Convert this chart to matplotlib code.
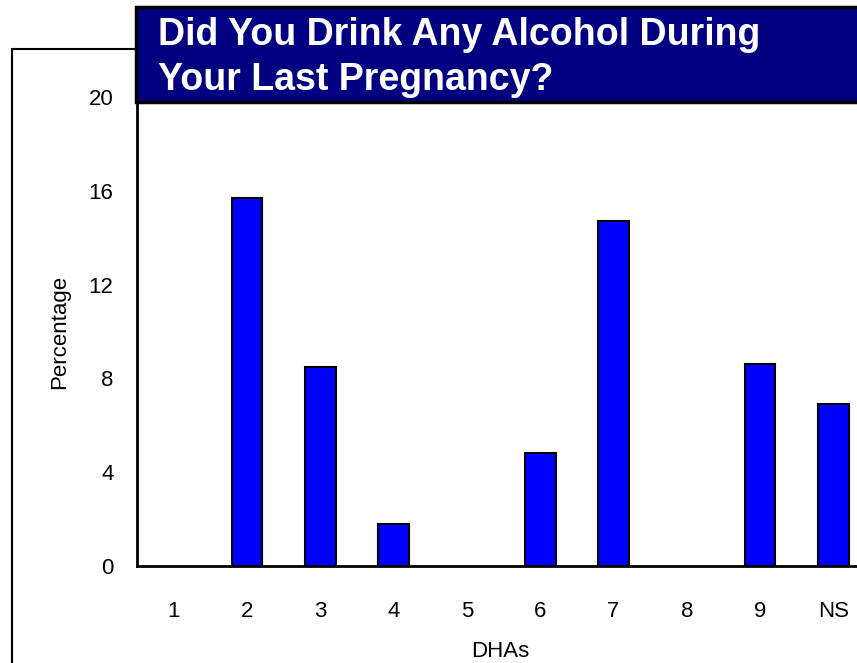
import numpy as np
import matplotlib.pyplot as plt
import matplotlib.patches as mpatches

categories = ["1", "2", "3", "4", "5", "6", "7", "8", "9", "NS"]
values = [0, 15.7, 8.5, 1.8, 0, 4.8, 14.7, 0, 8.6, 6.9]
yticks = [0, 4, 8, 12, 16, 20]
title_lines = ["Did You Drink Any Alcohol During", "Your Last Pregnancy?"]

plt.rcParams['font.family'] = ['Liberation Sans', 'DejaVu Sans']

fig = plt.figure(figsize=(8.57, 6.63), dpi=100)

# outer frame (runs off the right and bottom edges)
fig.patches.append(mpatches.Rectangle((12/857, -0.1), 1.2, 1.1 - 49/663,
                                      transform=fig.transFigure, fill=False,
                                      edgecolor="black", linewidth=1.5, zorder=0))

ax = fig.add_axes([137/857, (663-566)/663, 733/857, (566-97)/663])
x = np.arange(len(categories))
edges = ["black" if v > 0 else "none" for v in values]
ax.bar(x, values, width=0.42, color="#0000ff", edgecolor=edges, linewidth=1.5)
ax.set_xlim(-0.5, len(categories) - 0.5)
ax.set_ylim(0, 20)
ax.set_yticks(yticks)
ax.set_xticks(x)
ax.set_xticklabels(categories)
ax.tick_params(axis="both", length=0, labelsize=16)
ax.tick_params(axis="y", pad=17)
ax.tick_params(axis="x", pad=25)
ax.spines["top"].set_visible(False)
ax.spines["right"].set_visible(False)
ax.spines["left"].set_linewidth(2)
ax.spines["bottom"].set_linewidth(2)
ax.spines["bottom"].set_zorder(3)
ax.set_ylabel("Percentage", fontsize=16, labelpad=13)
ax.set_xlabel("DHAs", fontsize=16)
ax.xaxis.set_label_coords((500 - 137) / 733, -(641 - 566) / 469)

# title box
fig.patches.append(mpatches.Rectangle((136/857, (663-102)/663), 1.0, 95/663,
                                      transform=fig.transFigure, facecolor="#000080",
                                      edgecolor="black", linewidth=2.5, zorder=5))
fig.text(158/857, (663-45)/663, title_lines[0], color="white", fontsize=27,
         fontweight="bold", va="baseline", ha="left", zorder=6)
fig.text(158/857, (663-90)/663, title_lines[1], color="white", fontsize=27,
         fontweight="bold", va="baseline", ha="left", zorder=6)

plt.savefig("out.png", dpi=100)
